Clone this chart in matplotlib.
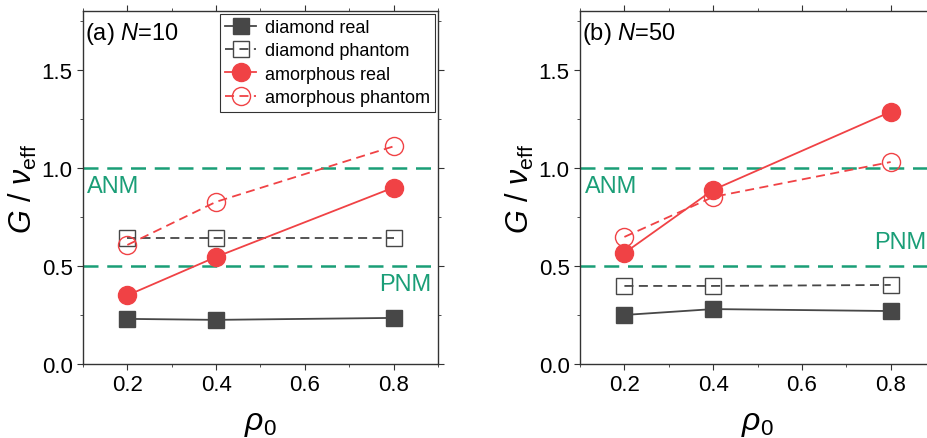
import matplotlib
matplotlib.use("Agg")
import matplotlib.pyplot as plt
from matplotlib.ticker import MultipleLocator

plt.rcParams['font.family'] = ['Liberation Sans', 'DejaVu Sans']
plt.rcParams['mathtext.fontset'] = 'custom'
plt.rcParams['mathtext.rm'] = 'Liberation Sans'
plt.rcParams['mathtext.it'] = 'Liberation Sans:italic'

rho = [0.2, 0.4, 0.8]

# Panel (a) N=10
a_diamond_real = [0.23, 0.225, 0.235]
a_diamond_phantom = [0.64, 0.64, 0.64]
a_amorph_real = [0.35, 0.546, 0.90]
a_amorph_phantom = [0.607, 0.827, 1.11]

# Panel (b) N=50
b_diamond_real = [0.25, 0.28, 0.27]
b_diamond_phantom = [0.398, 0.398, 0.403]
b_amorph_real = [0.566, 0.888, 1.286]
b_amorph_phantom = [0.648, 0.852, 1.03]

ref_lines = [1.0, 0.5]
panel_titles = [r'(a) $N$=10', r'(b) $N$=50']

gray = '#474747'
red = '#f04245'
green = '#1a9e77'

fig = plt.figure(figsize=(9.27, 4.39), dpi=100)
ax1 = fig.add_axes([0.0895, 0.1686, 0.383, 0.804])
ax2 = fig.add_axes([0.6257, 0.1686, 0.383, 0.804])

panels = [
    (ax1, a_diamond_real, a_diamond_phantom, a_amorph_real, a_amorph_phantom),
    (ax2, b_diamond_real, b_diamond_phantom, b_amorph_real, b_amorph_phantom),
]

for i, (ax, dr, dp, ar, ap) in enumerate(panels):
    for y in ref_lines:
        ax.axhline(y, color=green, lw=1.8, ls=(0, (6, 3.5)), zorder=1)
    ax.plot(rho, dr, color=gray, lw=1.3, marker='s', ms=11, mfc=gray, mec=gray,
            label='diamond real', zorder=3)
    ax.plot(rho, dp, color=gray, lw=1.3, ls=(0, (5, 3)), marker='s', ms=11, mfc='none',
            mec=gray, mew=1.0, label='diamond phantom', zorder=3)
    ax.plot(rho, ar, color=red, lw=1.3, marker='o', ms=13, mfc=red, mec=red,
            label='amorphous real', zorder=4)
    ax.plot(rho, ap, color=red, lw=1.3, ls=(0, (5, 3)), marker='o', ms=13, mfc='none',
            mec=red, mew=1.0, label='amorphous phantom', zorder=4)

    ax.set_xlim(0.1, 0.9)
    ax.set_ylim(0.0, 1.8)
    ax.set_xticks([0.2, 0.4, 0.6, 0.8])
    ax.set_yticks([0.0, 0.5, 1.0, 1.5])
    ax.xaxis.set_minor_locator(MultipleLocator(0.1))
    ax.yaxis.set_minor_locator(MultipleLocator(0.25))
    ax.tick_params(axis='both', which='major', labelsize=16, length=4, width=0.8,
                   direction='out', colors='#333333', labelcolor='black')
    ax.tick_params(axis='both', which='minor', length=2.5, width=0.6,
                   direction='out', colors='#333333')
    ax.tick_params(top=True, right=True, which='both')
    for s in ax.spines.values():
        s.set_color('#333333')
        s.set_linewidth(1.0)
    ax.set_xlabel(r'$\rho_0$', fontsize=23, labelpad=9)
    ax.set_ylabel(r'$G$ / $\nu_{\mathrm{eff}}$', fontsize=22, labelpad=2)
    ax.text(0.005, 0.975, panel_titles[i], transform=ax.transAxes, fontsize=17,
            ha='left', va='top')
    ax.text(0.11, 0.91, 'ANM', color=green, fontsize=17, ha='left', va='center')

ax1.text(0.885, 0.408, 'PNM', color=green, fontsize=17, ha='right', va='center')
ax2.text(0.975, 0.62, 'PNM', color=green, fontsize=17, ha='right', va='center',
         transform=ax2.get_yaxis_transform())

leg = ax1.legend(loc='upper right', fontsize=13, frameon=True, fancybox=False,
                 edgecolor='black', borderaxespad=0.15, handlelength=1.7,
                 handletextpad=0.5, labelspacing=0.35, borderpad=0.3)
leg.get_frame().set_linewidth(0.8)

fig.savefig('out.png', dpi=100)
